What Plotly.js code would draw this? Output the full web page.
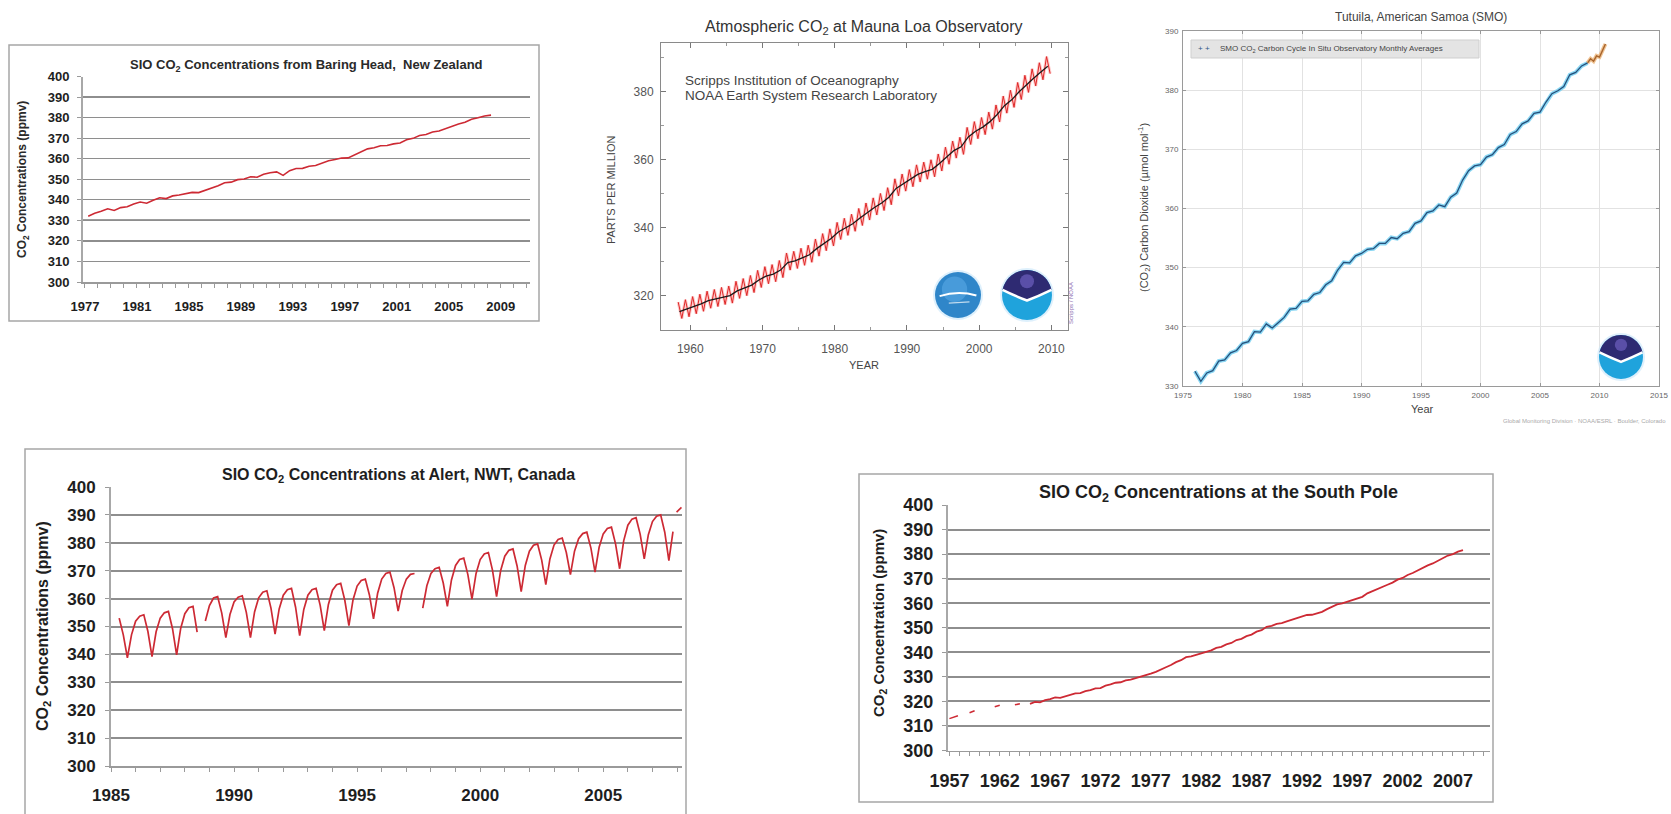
<!DOCTYPE html>
<html><head><meta charset="utf-8">
<script src="https://cdn.plot.ly/plotly-3.0.1.min.js"></script>
<style>html,body{margin:0;padding:0;background:#fff;overflow:hidden}#chart{width:1671px;height:814px}</style>
</head><body><div id="chart"></div>
<script>
// ===================== DATA =====================
// Baring Head, New Zealand (half-yearly readings)
const baringStart = 1977.25, baringStep = 0.5;
const baringCO2 = [332.0,333.4,334.4,335.6,334.8,336.2,336.6,338.0,338.9,338.3,
  339.8,341.0,340.6,341.9,342.3,342.8,343.6,343.5,344.6,345.6,
  346.8,348.3,348.6,349.8,350.1,351.2,351.0,352.4,353.2,353.6,
  351.9,354.2,355.2,355.3,356.3,356.7,358.0,359.0,359.6,360.3,
  360.4,362.0,363.4,364.8,365.3,366.3,366.4,367.2,367.6,369.2,
  369.9,371.3,371.8,373.0,373.5,374.7,375.6,376.9,377.7,379.2,
  379.9,380.8,381.2];
const baringYears = [1977,1981,1985,1989,1993,1997,2001,2005,2009];
const ppmTicks = [300,310,320,330,340,350,360,370,380,390,400];

// Mauna Loa (seasonal May / Nov readings and annual trend)
const mloSeasonStart = 1958.33, mloSeasonStep = 0.5;
const mloSeasonal = [318.1,313.3,318.8,313.8,319.7,314.7,320.4,315.4,321.3,316.3,
  321.8,316.8,322.4,317.4,322.8,317.8,324.2,319.2,325.0,320.0,
  325.9,320.9,327.4,322.4,328.5,323.5,329.1,324.1,330.3,325.3,
  332.5,327.5,333.0,328.0,333.9,328.9,334.8,329.8,336.6,331.6,
  338.2,333.2,339.6,334.6,341.5,336.5,342.7,337.7,343.9,338.9,
  345.6,340.6,347.2,342.2,348.7,343.7,350.0,345.0,351.7,346.7,
  354.3,349.3,355.7,350.7,357.0,352.0,358.4,353.4,359.2,354.2,
  359.9,354.9,361.6,356.6,363.6,358.6,365.4,360.4,366.5,361.5,
  369.4,364.4,371.1,366.1,372.3,367.3,373.9,368.9,376.0,371.0,
  378.6,373.6,380.3,375.3,382.6,377.6,384.7,379.7,386.6,381.6,
  388.4,383.4,390.2,385.2];
const mloTrendStart = 1958.5, mloTrendStep = 1;
const mloTrend = [315.3,316.0,316.9,317.6,318.5,319.0,319.6,320.0,321.4,322.2,
  323.1,324.6,325.7,326.3,327.5,329.7,330.2,331.1,332.0,333.8,
  335.4,336.8,338.7,339.9,341.1,342.8,344.4,345.9,347.2,348.9,
  351.5,352.9,354.2,355.6,356.4,357.1,358.8,360.8,362.6,363.7,
  366.6,368.3,369.5,371.1,373.2,375.8,377.5,379.8,381.9,383.8,
  385.6,387.4];

// Tutuila, American Samoa
const samoaStart = 1976.0, samoaStep = 0.5;
const samoaCO2 = [332.5,330.8,332.2,332.6,334.2,334.4,335.6,336.0,337.2,337.5,
  339.2,339.1,340.5,339.8,340.7,341.6,343.0,343.1,344.3,344.4,
  345.5,345.8,347.1,347.8,349.6,350.9,350.8,352.0,352.4,353.1,
  353.2,354.1,354.1,355.1,354.9,355.8,356.1,357.5,357.9,359.3,
  359.6,360.6,360.3,361.9,362.6,364.8,366.4,367.2,367.4,368.7,
  369.1,370.3,370.8,372.5,373.0,374.3,374.8,376.1,376.3,378.0,
  379.4,379.9,380.6,382.6,383.0,384.1,384.6];
const samoaRecentStart = 2009.0, samoaRecentStep = 0.25;
const samoaRecent = [384.6,385.3,384.9,385.8,385.6,386.8,387.8];

// Alert, NWT, Canada (bi-monthly readings: Jan Mar May Jul Sep Nov)
const alertStart = 1985.333, alertStep = 1/6;
const alertCO2 = [353.0,347.0,338.8,347.0,
  351.9,353.7,354.2,348.2,339.2,348.1,
  353.0,354.9,355.4,349.2,339.8,349.4,
  354.6,356.7,357.2,348.0,null,352.0,
  357.5,360.2,360.7,354.8,346.0,354.3,
  358.8,360.5,361.0,355.0,346.0,355.2,
  360.3,362.3,362.8,356.6,347.3,356.3,
  361.2,363.2,363.7,356.9,346.7,356.1,
  361.2,363.2,363.7,357.6,348.5,357.9,
  363.0,365.0,365.5,359.4,350.3,359.5,
  364.5,366.5,367.0,361.3,352.7,361.9,
  367.0,369.0,369.5,363.9,355.5,362.9,
  367.0,368.7,369.0,null,356.6,364.6,
  369.0,370.7,371.2,365.6,357.2,366.7,
  371.9,374.0,374.5,368.6,359.8,369.0,
  374.0,376.0,376.5,370.2,360.7,370.1,
  375.2,377.3,377.8,371.7,362.5,371.9,
  377.0,379.1,379.6,373.8,365.0,374.2,
  379.2,381.2,381.7,376.5,368.6,377.0,
  381.5,383.3,383.8,378.1,369.5,378.4,
  383.2,385.1,385.6,379.6,370.7,380.8,
  386.3,388.5,389.0,383.1,374.2,382.9,
  387.6,389.5,390.0,383.8,373.6,384.0];
const alertTailStart = 2007.98, alertTailStep = 0.2;
const alertTail = [391.0,392.7];
const alertYears = [1985,1990,1995,2000,2005];

// South Pole
const poleEarlyStart = 1957.0, poleEarlyStep = 0.5;
const poleEarly = [313.0,313.6,314.4,null,315.4,316.2,null,null,null,317.8,318.4,null,null,318.6,319.0,null,319.0];
const poleStart = 1965.0, poleStep = 0.5;
const poleCO2 = [319.0,319.8,319.6,320.5,320.9,321.6,321.4,322.0,322.6,323.3,
  323.4,324.2,324.6,325.3,325.4,326.4,326.9,327.6,327.8,328.6,
  328.9,329.5,329.8,330.6,331.3,332.0,332.8,333.9,334.8,336.0,
  336.8,338.0,338.3,338.9,339.4,340.3,340.8,341.8,342.2,343.2,
  343.8,345.0,345.5,346.6,347.2,348.4,349.0,350.4,350.8,351.6,
  351.9,352.6,353.2,354.0,354.3,355.2,355.3,356.0,356.5,357.6,
  358.4,359.5,359.9,360.6,361.0,361.8,362.6,364.0,364.8,365.8,
  366.5,367.5,368.4,369.6,370.3,371.5,372.3,373.4,374.3,375.4,
  376.2,377.3,378.1,379.4,380.0,381.0,381.6];
const poleYears = [1957,1962,1967,1972,1977,1982,1987,1992,1997,2002,2007];

// ===================== LAYOUT HELPERS =====================
const W = 1671, H = 814;
const fx = x => x / W;
const fy = y => 1 - y / H;
const SANS = 'Liberation Sans, Arial, sans-serif';
const RED = 'rgb(205,42,52)';
const ML_DY = 3; // vertical offset for the Mauna Loa panel

function P(x, y) { return fx(x).toFixed(5) + ',' + fy(y).toFixed(5); }

function excelX(dom, range, vals, size, standoff) {
  return {domain: dom, range: range, tickmode: 'array', tickvals: vals,
    tickfont: {family: SANS, size: size, color: '#1e1e1e', weight: 700},
    ticks: 'outside', ticklen: 4, tickcolor: '#9a9a9a', tickwidth: 1,
    minor: {dtick: 1, tick0: 0, ticks: 'outside', ticklen: 4, tickcolor: '#9a9a9a'},
    showline: true, linecolor: '#9a9a9a', linewidth: 1.5,
    showgrid: false, zeroline: false, ticklabelstandoff: standoff, fixedrange: true};
}
function excelY(dom, size, gw, standoff) {
  return {domain: dom, range: [300, 400], tickmode: 'array', tickvals: ppmTicks,
    tickfont: {family: SANS, size: size, color: '#1e1e1e', weight: 700},
    ticks: 'outside', ticklen: 4, tickcolor: '#9a9a9a',
    showline: true, linecolor: '#a8a8a8', linewidth: 2,
    showgrid: true, gridcolor: '#8e8e8e', gridwidth: gw, zeroline: false,
    ticklabelstandoff: standoff, fixedrange: true};
}

const traces = [
  // Baring Head
  {x0: baringStart, dx: baringStep, y: baringCO2, type: 'scatter', mode: 'lines',
   line: {color: RED, width: 1.6}, xaxis: 'x', yaxis: 'y', hoverinfo: 'skip'},
  // Mauna Loa
  {x0: mloSeasonStart, dx: mloSeasonStep, y: mloSeasonal, type: 'scatter', mode: 'lines',
   line: {color: 'rgba(255,150,150,0.5)', width: 3}, xaxis: 'x2', yaxis: 'y2', hoverinfo: 'skip'},
  {x0: mloSeasonStart, dx: mloSeasonStep, y: mloSeasonal, type: 'scatter', mode: 'lines',
   line: {color: 'rgb(222,40,40)', width: 1}, xaxis: 'x2', yaxis: 'y2', hoverinfo: 'skip'},
  {x0: mloTrendStart, dx: mloTrendStep, y: mloTrend, type: 'scatter', mode: 'lines',
   line: {color: '#1a1a1a', width: 1.3}, xaxis: 'x2', yaxis: 'y2', hoverinfo: 'skip'},
  // Samoa
  {x0: samoaStart, dx: samoaStep, y: samoaCO2, type: 'scatter', mode: 'lines',
   line: {color: 'rgba(110,205,240,0.8)', width: 4}, xaxis: 'x3', yaxis: 'y3', hoverinfo: 'skip'},
  {x0: samoaStart, dx: samoaStep, y: samoaCO2, type: 'scatter', mode: 'lines',
   line: {color: '#24507c', width: 1.3}, xaxis: 'x3', yaxis: 'y3', hoverinfo: 'skip'},
  {x0: samoaRecentStart, dx: samoaRecentStep, y: samoaRecent, type: 'scatter', mode: 'lines',
   line: {color: 'rgba(235,180,120,0.8)', width: 4}, xaxis: 'x3', yaxis: 'y3', hoverinfo: 'skip'},
  {x0: samoaRecentStart, dx: samoaRecentStep, y: samoaRecent, type: 'scatter', mode: 'lines',
   line: {color: '#a8642c', width: 1.4}, xaxis: 'x3', yaxis: 'y3', hoverinfo: 'skip'},
  // Alert
  {x0: alertStart, dx: alertStep, y: alertCO2, type: 'scatter', mode: 'lines',
   line: {color: RED, width: 1.7}, xaxis: 'x4', yaxis: 'y4', hoverinfo: 'skip'},
  {x0: alertTailStart, dx: alertTailStep, y: alertTail, type: 'scatter', mode: 'lines',
   line: {color: RED, width: 1.7}, xaxis: 'x4', yaxis: 'y4', hoverinfo: 'skip'},
  // South Pole
  {x0: poleEarlyStart, dx: poleEarlyStep, y: poleEarly, type: 'scatter', mode: 'lines',
   line: {color: RED, width: 1.5, dash: 'dash'}, xaxis: 'x5', yaxis: 'y5', hoverinfo: 'skip'},
  {x0: poleStart, dx: poleStep, y: poleCO2, type: 'scatter', mode: 'lines',
   line: {color: RED, width: 1.8}, xaxis: 'x5', yaxis: 'y5', hoverinfo: 'skip'}
];

// ---------- logos ----------
function circle(cx, cy, r, fill, line) {
  return {type: 'circle', xref: 'paper', yref: 'paper',
    x0: fx(cx - r), x1: fx(cx + r), y0: fy(cy + r), y1: fy(cy - r),
    fillcolor: fill, line: line || {width: 0}, layer: 'above'};
}
function noaaLogo(cx, cy, r) {
  const out = [];
  out.push(circle(cx, cy, r + 2, 'rgba(200,230,250,0.6)'));
  out.push(circle(cx, cy, r, '#1fa3dc'));
  let d = '';
  const a0 = 12, a1 = 168, n = 24;
  for (let i = 0; i <= n; i++) {
    const a = (a0 + (a1 - a0) * i / n) * Math.PI / 180;
    d += (i === 0 ? 'M' : ' L') + P(cx + r * Math.cos(a), cy - r * Math.sin(a));
  }
  const lx = cx + r * Math.cos(a1 * Math.PI / 180), ly = cy - r * Math.sin(a1 * Math.PI / 180);
  const rx = cx + r * Math.cos(a0 * Math.PI / 180), ry = cy - r * Math.sin(a0 * Math.PI / 180);
  d += ' Q' + P(cx - 0.45 * r, cy + 0.05 * r) + ' ' + P(cx, cy + 0.22 * r);
  d += ' Q' + P(cx + 0.45 * r, cy + 0.05 * r) + ' ' + P(rx, ry) + ' Z';
  out.push({type: 'path', xref: 'paper', yref: 'paper', path: d, fillcolor: '#2e2a72', line: {width: 0}, layer: 'above'});
  const wing = 'M' + P(lx, ly) + ' Q' + P(cx - 0.45 * r, cy + 0.05 * r) + ' ' + P(cx, cy + 0.22 * r) +
    ' Q' + P(cx + 0.45 * r, cy + 0.05 * r) + ' ' + P(rx, ry);
  out.push({type: 'path', xref: 'paper', yref: 'paper', path: wing, line: {color: '#ffffff', width: 2.5}, layer: 'above'});
  out.push(circle(cx, cy - 0.55 * r, 0.28 * r, '#5a4fa8'));
  return out;
}
function sioLogo(cx, cy, r) {
  const out = [];
  out.push(circle(cx, cy, r + 2, 'rgba(200,230,250,0.6)'));
  out.push(circle(cx, cy, r, '#2f86c9'));
  out.push(circle(cx - 0.15 * r, cy - 0.25 * r, 0.55 * r, 'rgba(90,170,230,0.6)'));
  const w = 'M' + P(cx - 0.8 * r, cy + 0.05 * r) + ' Q' + P(cx, cy - 0.2 * r) + ' ' + P(cx + 0.8 * r, cy + 0.02 * r);
  out.push({type: 'path', xref: 'paper', yref: 'paper', path: w, line: {color: '#ffffff', width: 2}, layer: 'above'});
  const w2 = 'M' + P(cx - 0.4 * r, cy + 0.35 * r) + ' L' + P(cx + 0.5 * r, cy + 0.3 * r);
  out.push({type: 'path', xref: 'paper', yref: 'paper', path: w2, line: {color: 'rgba(255,255,255,0.7)', width: 1.2}, layer: 'above'});
  return out;
}

const shapes = [
  // Excel chart frames
  {type: 'rect', xref: 'paper', yref: 'paper', x0: fx(9), x1: fx(539), y0: fy(321), y1: fy(45), line: {color: '#a6a6a6', width: 1.5}, layer: 'below'},
  {type: 'rect', xref: 'paper', yref: 'paper', x0: fx(25), x1: fx(686), y0: fy(840), y1: fy(449), line: {color: '#a6a6a6', width: 1.5}, layer: 'below'},
  {type: 'rect', xref: 'paper', yref: 'paper', x0: fx(859), x1: fx(1493), y0: fy(802), y1: fy(474), line: {color: '#a6a6a6', width: 1.5}, layer: 'below'},
  // darker 330 line on Baring Head chart
  {type: 'line', xref: 'x domain', yref: 'y', x0: 0, x1: 1, y0: 330, y1: 330, line: {color: '#3a3a3a', width: 1.5}, layer: 'below'},
  // Samoa legend box
  {type: 'rect', xref: 'paper', yref: 'paper', x0: fx(1191), x1: fx(1479), y0: fy(58), y1: fy(40), fillcolor: '#e4e4e4', line: {color: '#cfcfcf', width: 1}}
].concat(sioLogo(958, 292 + ML_DY, 23), noaaLogo(1027, 292 + ML_DY, 25), noaaLogo(1621, 357, 22));

function ann(text, x, y, size, opts) {
  return Object.assign({text: text, xref: 'paper', yref: 'paper', x: fx(x), y: fy(y),
    showarrow: false, xanchor: 'center', yanchor: 'middle',
    font: {family: SANS, size: size, color: '#222'}}, opts || {});
}

const annotations = [
  // Baring Head
  ann('SIO CO<sub>2</sub> Concentrations from Baring Head,  New Zealand', 306, 65, 13, {font: {family: SANS, size: 13, color: '#2a2a2a', weight: 700}}),
  ann('CO<sub>2</sub> Concentrations (ppmv)', 23, 180, 12, {textangle: -90, font: {family: SANS, size: 12, color: '#2a2a2a', weight: 700}}),
  // Mauna Loa
  ann('Atmospheric CO<sub>2</sub> at Mauna Loa Observatory', 864, 25 + ML_DY, 16, {font: {family: SANS, size: 16, color: '#333'}}),
  ann('Scripps Institution of Oceanography', 683, 77 + ML_DY, 13.5, {xanchor: 'left', font: {family: SANS, size: 13.5, color: '#444'}}),
  ann('NOAA Earth System Research Laboratory', 683, 93 + ML_DY, 13.5, {xanchor: 'left', font: {family: SANS, size: 13.5, color: '#444'}}),
  ann('PARTS PER MILLION', 611, 187 + ML_DY, 11, {textangle: -90, font: {family: SANS, size: 11, color: '#444'}}),
  ann('YEAR', 864, 362 + ML_DY, 11, {font: {family: SANS, size: 11, color: '#444'}}),
  ann('Scripps / NOAA', 1071, 300 + ML_DY, 6, {textangle: -90, font: {family: SANS, size: 6, color: '#8a6ab0'}}),
  // Samoa
  ann('Tutuila, American Samoa (SMO)', 1421, 17, 12, {font: {family: SANS, size: 12, color: '#444'}}),
  ann('(CO<sub>2</sub>) Carbon Dioxide (µmol mol<sup>-1</sup>)', 1144, 208, 11, {textangle: -90, font: {family: SANS, size: 11, color: '#444'}}),
  ann('Year', 1422, 409, 11, {font: {family: SANS, size: 11, color: '#444'}}),
  ann('+ +', 1196, 48, 8, {xanchor: 'left', font: {family: SANS, size: 8, color: '#2a5784'}}),
  ann('SMO CO<sub>2</sub> Carbon Cycle In Situ Observatory Monthly Averages', 1218, 49, 8, {xanchor: 'left', font: {family: SANS, size: 8, color: '#444'}}),
  ann('Global Monitoring Division · NOAA/ESRL · Boulder, Colorado', 1668, 421, 6, {xanchor: 'right', font: {family: SANS, size: 6, color: '#aaa'}}),
  // Alert
  ann('SIO CO<sub>2</sub> Concentrations at Alert, NWT, Canada', 398, 475, 16, {font: {family: SANS, size: 16, color: '#1e1e1e', weight: 700}}),
  ann('CO<sub>2</sub> Concentrations (ppmv)', 43, 626, 16, {textangle: -90, font: {family: SANS, size: 16, color: '#1e1e1e', weight: 700}}),
  // South Pole
  ann('SIO CO<sub>2</sub> Concentrations at the South Pole', 1218, 493, 18, {font: {family: SANS, size: 18, color: '#1e1e1e', weight: 700}}),
  ann('CO<sub>2</sub> Concentration (ppmv)', 879, 623, 15, {textangle: -90, font: {family: SANS, size: 15, color: '#1e1e1e', weight: 700}})
];

const layout = {
  width: W, height: H, margin: {l: 0, r: 0, t: 0, b: 0},
  paper_bgcolor: '#ffffff', plot_bgcolor: 'rgba(0,0,0,0)', showlegend: false,
  // Baring Head
  xaxis: Object.assign(excelX([fx(83), fx(530)], [1976.85, 2011.25], baringYears, 13, 8), {anchor: 'y'}),
  yaxis: Object.assign(excelY([fy(282), fy(76.5)], 13, 1.2, 5), {anchor: 'x'}),
  // Mauna Loa
  xaxis2: {domain: [fx(661), fx(1068)], range: [1955.95, 2012.3], anchor: 'y2', dtick: 10, tick0: 1960,
    ticks: 'inside', ticklen: 5, tickcolor: '#777', mirror: 'allticks', showline: true, linecolor: '#8a8a8a', linewidth: 1,
    minor: {dtick: 5, tick0: 1960, ticks: 'inside', ticklen: 3, tickcolor: '#999'},
    showgrid: false, zeroline: false, tickfont: {family: SANS, size: 12, color: '#555'}, ticklabelstandoff: 8, fixedrange: true},
  yaxis2: {domain: [fy(327 + ML_DY), fy(40 + ML_DY)], range: [309.9, 394.2], anchor: 'x2', dtick: 20, tick0: 320,
    ticks: 'inside', ticklen: 5, tickcolor: '#777', mirror: 'allticks', showline: true, linecolor: '#8a8a8a', linewidth: 1,
    minor: {dtick: 10, tick0: 320, ticks: 'inside', ticklen: 3, tickcolor: '#999'},
    showgrid: false, zeroline: false, tickfont: {family: SANS, size: 12, color: '#555'}, ticklabelstandoff: 4, fixedrange: true},
  // Samoa
  xaxis3: {domain: [fx(1183), fx(1659)], range: [1975, 2015], anchor: 'y3', dtick: 5, tick0: 1975,
    ticks: 'inside', ticklen: 3, tickcolor: '#999', mirror: 'allticks', showline: true, linecolor: '#9a9a9a', linewidth: 1,
    showgrid: true, gridcolor: '#e2e2e2', zeroline: false, tickfont: {family: SANS, size: 8, color: '#666'}, ticklabelstandoff: 1, fixedrange: true},
  yaxis3: {domain: [fy(386), fy(31)], range: [330, 390], anchor: 'x3', dtick: 10, tick0: 330,
    ticks: 'inside', ticklen: 3, tickcolor: '#999', mirror: 'allticks', showline: true, linecolor: '#9a9a9a', linewidth: 1,
    showgrid: true, gridcolor: '#e2e2e2', zeroline: false, tickfont: {family: SANS, size: 8, color: '#666'}, ticklabelstandoff: 2, fixedrange: true},
  // Alert
  xaxis4: Object.assign(excelX([fx(111), fx(682)], [1985, 2008.2], alertYears, 17, 9), {anchor: 'y4'}),
  yaxis4: Object.assign(excelY([fy(766), fy(487)], 17, 2, 6), {anchor: 'x4'}),
  // South Pole
  xaxis5: Object.assign(excelX([fx(948), fx(1490)], [1956.86, 2010.68], poleYears, 18, 9), {anchor: 'y5'}),
  yaxis5: Object.assign(excelY([fy(750.5), fy(505)], 18, 2, 5), {anchor: 'x5'}),
  shapes: shapes,
  annotations: annotations
};

Plotly.newPlot('chart', traces, layout, {staticPlot: true, displayModeBar: false});
</script>
</body></html>
